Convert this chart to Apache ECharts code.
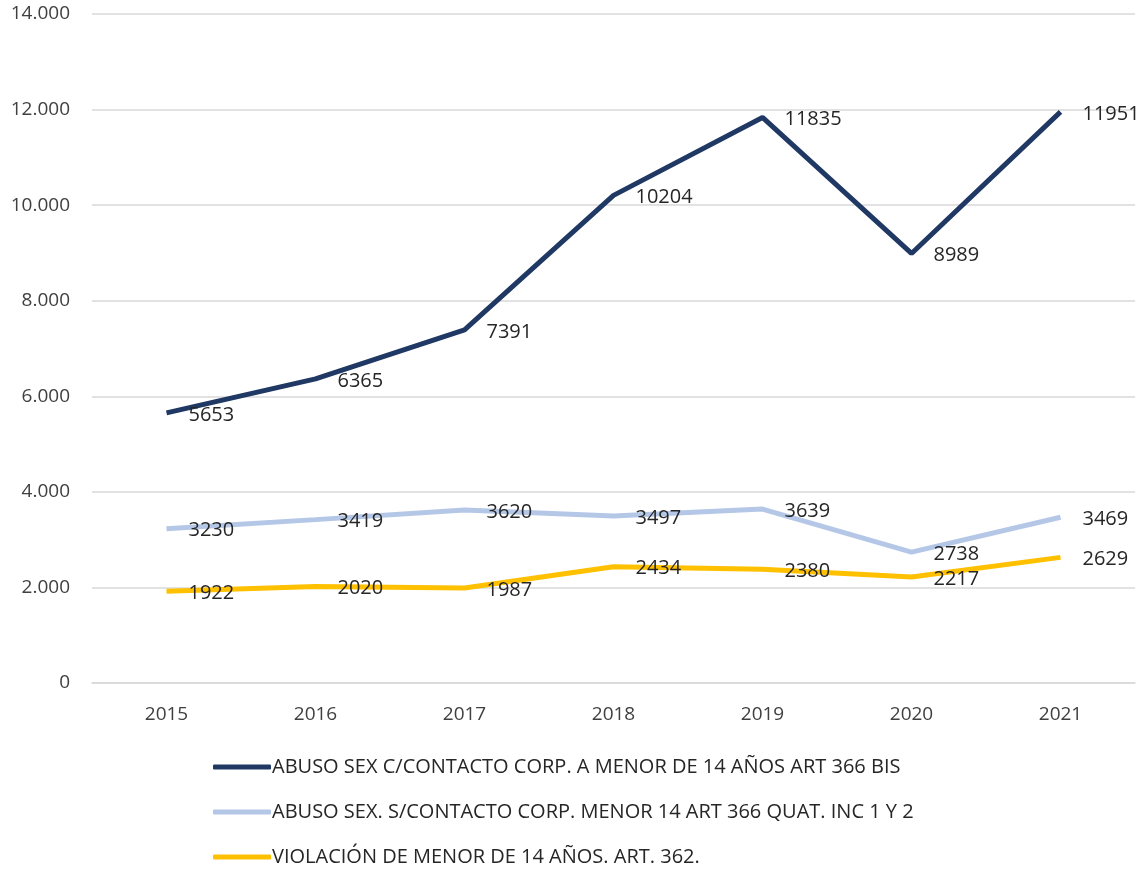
<!DOCTYPE html>
<html>
<head>
    <meta charset="utf-8">
    <title>ECharts</title>
    <script src="https://cdn.jsdelivr.net/npm/echarts@6/dist/echarts.min.js"></script>
</head>
<body style="margin:0">
<div id="main" style="width:1143px;height:869px;"></div>
<script type="text/javascript">
    var years = ['2015', '2016', '2017', '2018', '2019', '2020', '2021'];
    var seriesNames = [
        'ABUSO SEX C/CONTACTO CORP. A MENOR DE 14 AÑOS ART 366 BIS',
        'ABUSO SEX. S/CONTACTO CORP. MENOR 14 ART 366 QUAT. INC 1 Y 2',
        'VIOLACIÓN DE MENOR DE 14 AÑOS. ART. 362.'
    ];
    var abusoConContacto = [5653, 6365, 7391, 10204, 11835, 8989, 11951];
    var abusoSinContacto = [3230, 3419, 3620, 3497, 3639, 2738, 3469];
    var violacion = [1922, 2020, 1987, 2434, 2380, 2217, 2629];
    var colors = ['#203864', '#b4c7e7', '#ffc000'];

    var myChart = echarts.init(document.getElementById('main'));
    var font = '"Open Sans", "Noto Sans", sans-serif';

    function makeSeries(name, data, color) {
        return {
            name: name,
            type: 'line',
            data: data,
            symbol: 'circle',
            symbolSize: 0,
            lineStyle: { color: color, width: 5 },
            itemStyle: { color: color },
            label: {
                show: true,
                position: 'right',
                distance: 22,
                offset: [0, 2],
                fontFamily: font,
                fontSize: 20,
                color: '#262626'
            },
            emphasis: { disabled: true }
        };
    }

    var option = {
        backgroundColor: '#ffffff',
        animation: false,
        textStyle: { fontFamily: font },
        grid: { left: 92, right: 8, top: 14, bottom: 186 },
        legend: {
            orient: 'vertical',
            left: 213,
            top: 756,
            padding: 0,
            itemWidth: 58,
            itemHeight: 5,
            itemGap: 23,
            icon: 'roundRect',
            textStyle: { fontFamily: font, fontSize: 20, lineHeight: 22, color: '#262626', padding: [0, 0, 0, -4] },
            data: seriesNames
        },
        xAxis: {
            type: 'category',
            data: years,
            boundaryGap: true,
            axisLine: { lineStyle: { color: '#d9d9d9', width: 1.5 } },
            axisTick: { show: false },
            axisLabel: { fontSize: 19, color: '#404040', margin: 22 }
        },
        yAxis: {
            type: 'value',
            min: 0,
            max: 14000,
            interval: 2000,
            axisLine: { show: false },
            axisTick: { show: false },
            splitLine: { lineStyle: { color: '#d9d9d9', width: 1.5 } },
            axisLabel: {
                fontSize: 19,
                color: '#404040',
                margin: 22,
                formatter: function (v) {
                    return v === 0 ? '0' : (v / 1000).toFixed(3);
                }
            }
        },
        series: [
            makeSeries(seriesNames[0], abusoConContacto, colors[0]),
            makeSeries(seriesNames[1], abusoSinContacto, colors[1]),
            makeSeries(seriesNames[2], violacion, colors[2])
        ]
    };

    myChart.setOption(option);
</script>
</body>
</html>
